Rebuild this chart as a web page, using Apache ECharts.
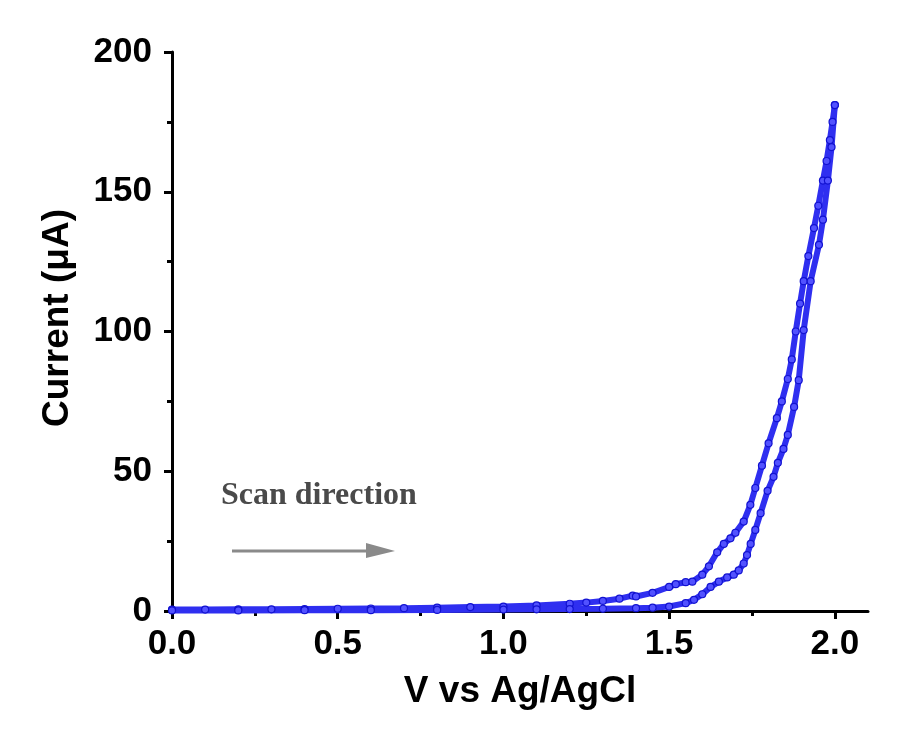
<!DOCTYPE html>
<html>
<head>
<meta charset="utf-8">
<script src="https://cdn.jsdelivr.net/npm/echarts@6/dist/echarts.min.js"></script>
<style>
  html, body { margin: 0; padding: 0; background: #ffffff; }
  #chart { width: 922px; height: 733px; }
</style>
</head>
<body>
<div id="chart"></div>
<script>
// Potential (V vs Ag/AgCl) and current (µA) along the branch with the higher current
const upperV = [0.00, 0.10, 0.20, 0.30, 0.40, 0.50, 0.60, 0.70, 0.80, 0.90, 1.00, 1.10, 1.20, 1.25, 1.30, 1.35, 1.39, 1.40, 1.45, 1.50, 1.52, 1.55, 1.57, 1.60, 1.62, 1.645, 1.665, 1.685, 1.70, 1.725, 1.745, 1.76, 1.78, 1.80, 1.825, 1.84, 1.858, 1.87, 1.882, 1.895, 1.906, 1.92, 1.937, 1.95, 1.964, 1.975, 1.985, 1.993, 2.00];
const upperI = [0.5, 0.5, 0.6, 0.6, 0.7, 0.8, 0.9, 1.0, 1.2, 1.4, 1.6, 2.0, 2.6, 3.0, 3.6, 4.4, 5.5, 5.2, 6.5, 8.6, 9.6, 10.3, 10.5, 13, 16, 21, 24, 26, 28, 32, 38, 44, 52, 60, 69, 75, 83, 90, 100, 110, 118, 127, 137, 145, 154, 161, 168.5, 175, 181];

// Branch with the lower current
const lowerV = [0.00, 0.20, 0.40, 0.60, 0.80, 1.00, 1.10, 1.20, 1.30, 1.40, 1.45, 1.50, 1.55, 1.575, 1.60, 1.625, 1.65, 1.675, 1.695, 1.71, 1.725, 1.735, 1.746, 1.76, 1.776, 1.797, 1.815, 1.828, 1.845, 1.858, 1.877, 1.891, 1.906, 1.927, 1.952, 1.964, 1.979, 1.99, 2.00];
const lowerI = [0.2, 0.2, 0.3, 0.3, 0.4, 0.5, 0.6, 0.7, 0.8, 1.0, 1.2, 1.6, 2.8, 4.0, 6.0, 8.6, 10.5, 12, 13, 14.5, 17, 20, 24, 29, 35, 43, 48, 53, 58, 63, 73, 82.6, 100.5, 118, 131, 140, 154, 166, 181];

const xMajorTicks = [0, 0.5, 1.0, 1.5, 2.0];
const xMinorTicks = [0.25, 0.75, 1.25, 1.75];

const pairs = (xs, ys) => xs.map((x, i) => [x, ys[i]]);

const FONT = '"Liberation Sans", Arial, sans-serif';

const markStyle = {
  type: 'line',
  symbol: 'circle',
  symbolSize: 7,
  showAllSymbol: true,
  lineStyle: { width: 6, color: '#2f2ff0' },
  itemStyle: { color: '#5252ff', borderColor: '#1212d0', borderWidth: 1.2 },
  emphasis: { disabled: true },
  z: 3
};

const chart = echarts.init(document.getElementById('chart'));
chart.setOption({
  backgroundColor: '#ffffff',
  animation: false,
  grid: { left: 172, right: 54, top: 52, bottom: 122, containLabel: false },
  xAxis: [
    {
      type: 'value',
      min: 0,
      max: 2.1,
      name: 'V vs Ag/AgCl',
      nameLocation: 'middle',
      nameGap: 62,
      nameTextStyle: { fontFamily: FONT, fontWeight: 'bold', fontSize: 37, color: '#000' },
      axisLine: { show: true, onZero: false, lineStyle: { color: '#000', width: 3 } },
      axisTick: { show: true, inside: false, length: 8, lineStyle: { color: '#000', width: 3 }, customValues: xMajorTicks },
      axisLabel: {
        show: true, margin: 16, fontFamily: FONT, fontWeight: 'bold', fontSize: 35, color: '#000',
        customValues: xMajorTicks,
        formatter: v => v.toFixed(1)
      },
      splitLine: { show: false }
    },
    {
      type: 'value',
      min: 0,
      max: 2.1,
      position: 'bottom',
      axisLine: { show: false },
      axisTick: { show: true, inside: false, length: 5, lineStyle: { color: '#000', width: 3 }, customValues: xMinorTicks },
      axisLabel: { show: false },
      splitLine: { show: false }
    }
  ],
  yAxis: {
    type: 'value',
    min: 0,
    max: 200,
    interval: 50,
    axisLine: { show: true, lineStyle: { color: '#000', width: 3 } },
    axisTick: { show: true, inside: false, length: 8, lineStyle: { color: '#000', width: 3 } },
    minorTick: { show: true, splitNumber: 2, length: 5, lineStyle: { color: '#000', width: 3 } },
    axisLabel: { margin: 20, fontFamily: FONT, fontWeight: 'bold', fontSize: 35, color: '#000' },
    splitLine: { show: false },
    minorSplitLine: { show: false }
  },
  graphic: [
    {
      // vertical axis title
      type: 'text',
      x: 58,
      y: 318,
      rotation: Math.PI / 2,
      style: {
        text: 'Current (\u03bcA)',
        font: 'bold 37px "Liberation Sans", Arial, sans-serif',
        fill: '#000',
        textAlign: 'center',
        textVerticalAlign: 'middle'
      }
    },
    {
      type: 'text',
      left: 221,
      top: 480,
      style: { text: 'Scan direction', font: 'bold 32px "Liberation Serif", "Times New Roman", serif', fill: '#4a4a4a' }
    },
    {
      type: 'line',
      shape: { x1: 232, y1: 551, x2: 368, y2: 551 },
      style: { stroke: '#8a8a8a', lineWidth: 3 }
    },
    {
      type: 'polygon',
      shape: { points: [[366, 543], [395, 551], [366, 558]] },
      style: { fill: '#8a8a8a' }
    }
  ],
  series: [
    Object.assign({ name: 'upper', data: pairs(upperV, upperI) }, markStyle),
    Object.assign({ name: 'lower', data: pairs(lowerV, lowerI) }, markStyle)
  ]
});
</script>
</body>
</html>
